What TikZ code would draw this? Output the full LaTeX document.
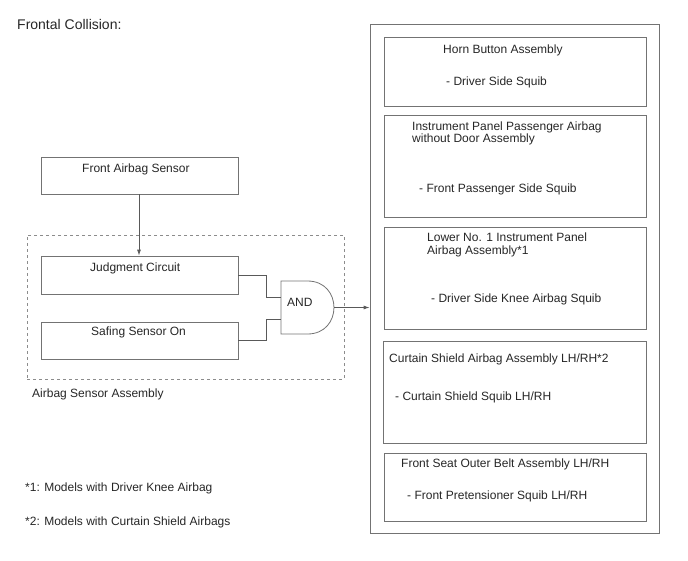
\documentclass[tikz,border=0pt]{standalone}
\usepackage{fontspec}
\setmainfont{Liberation Sans}
\usetikzlibrary{arrows.meta}
\begin{document}
\begin{tikzpicture}[x=1pt,y=-1pt,
  box/.style={draw=black!55, line width=0.8pt, inner sep=0pt, minimum width=#1},
  lbl/.style={anchor=base west, inner sep=0pt, font=\fontsize{12}{14}\selectfont, text=black!85},
  wire/.style={draw=black!65, line width=0.8pt},
  dashbox/.style={draw=black!45, line width=0.8pt, dash pattern=on 3pt off 3pt}]
\useasboundingbox (0,0) rectangle (688,560);

% title
\node[lbl, font=\fontsize{14}{16}\selectfont] (title) at (17,29) {Frontal Collision:};

% left part
\node[box=197pt, minimum height=37pt] (fas) at (139.5,175.5) {};
\node[lbl] (fast) at (82,172) {Front Airbag Sensor};

\node[dashbox, minimum width=317pt, minimum height=144pt, inner sep=0pt] (asm) at (185.5,307) {};
\node[lbl] (asmt) at (32,397) {Airbag Sensor Assembly};

\node[box=197pt, minimum height=38pt] (jc) at (139.5,275) {};
\node[lbl] (jct) at (90,271) {Judgment Circuit};
\node[box=197pt, minimum height=37pt] (ss) at (139.5,340.5) {};
\node[lbl] (sst) at (91,335) {Safing Sensor On};

% AND gate
\coordinate (g1) at (281,281);
\coordinate (g2) at (307.5,281);
\coordinate (g3) at (307.5,334);
\coordinate (g4) at (281,334);
\draw[wire, draw=black!55] (g1) -- (g2) .. controls (342.8,281) and (342.8,334) .. (g3) -- (g4) -- cycle;
\node[lbl] (andt) at (287,306) {AND};
\coordinate (gin1) at (281,297);
\coordinate (gin2) at (281,319);
\coordinate (gout) at (334,307.5);

% big box
\node[box=289pt, minimum height=509pt] (big) at (514.5,278.5) {};

\node[box=262pt, minimum height=69pt] (horn) at (515,71.5) {};
\node[lbl] (hornt1) at (443,53) {Horn Button Assembly};
\node[lbl] (hornt2) at (446,85) {- Driver Side Squib};

\node[box=262pt, minimum height=102pt] (ip) at (515,166) {};
\node[lbl] (ipt1) at (412,130) {Instrument Panel Passenger Airbag};
\node[lbl] (ipt2) at (412,142) {without Door Assembly};
\node[lbl] (ipt3) at (419,192) {- Front Passenger Side Squib};

\node[box=262pt, minimum height=102pt] (low) at (515,278) {};
\node[lbl] (lowt1) at (427,241) {Lower No. 1 Instrument Panel};
\node[lbl] (lowt2) at (427,254) {Airbag Assembly*1};
\node[lbl] (lowt3) at (431,302) {- Driver Side Knee Airbag Squib};

\node[box=263pt, minimum height=102pt] (cur) at (514.5,392) {};
\node[lbl] (curt1) at (389,362) {Curtain Shield Airbag Assembly LH/RH*2};
\node[lbl] (curt2) at (395,400) {- Curtain Shield Squib LH/RH};

\node[box=262pt, minimum height=68pt] (fsb) at (515,487) {};
\node[lbl] (fsbt1) at (401,467) {Front Seat Outer Belt Assembly LH/RH};
\node[lbl] (fsbt2) at (407,499) {- Front Pretensioner Squib LH/RH};

% footnotes
\node[lbl] (fn1) at (25,491) {*1: Models with Driver Knee Airbag};
\node[lbl] (fn2) at (25,525) {*2: Models with Curtain Shield Airbags};

% connectors
\draw[wire, -{Latex[length=6pt,width=4pt]}] (fas.south -| 139,0) -- (jc.north -| 139,0);
\draw[wire] (jc.east) -- (266,275) |- (gin1);
\draw[wire] (ss.east) -- (266,340.5) |- (gin2);
\draw[wire, -{Latex[length=6pt,width=4pt]}] (gout) -- (big.west |- gout);
\end{tikzpicture}
\end{document}
